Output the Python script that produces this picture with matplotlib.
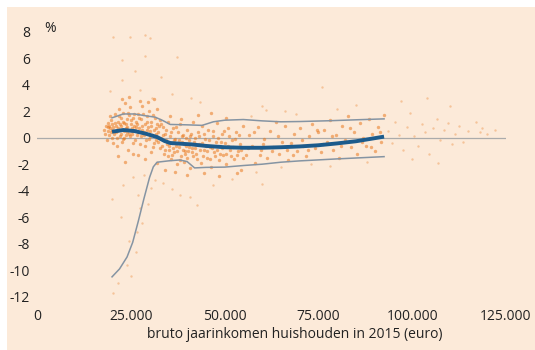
import numpy as np
import matplotlib
matplotlib.use('Agg')
import matplotlib.pyplot as plt

plt.rcParams['font.family'] = ['Open Sans', 'DejaVu Sans']
plt.rcParams['axes.unicode_minus'] = False

# loess line and band (x in euro, y in %)
loess_x = [20000, 23000, 26000, 29000, 32000, 34000, 35500, 38000, 41000, 45000, 50000,
           55000, 60000, 65000, 70000, 75000, 80000, 85000, 92500]
loess_y = [0.45, 0.58, 0.5, 0.3, 0.05, -0.25, -0.4, -0.45, -0.5, -0.62, -0.72,
           -0.76, -0.76, -0.72, -0.66, -0.57, -0.43, -0.27, 0.08]

upper_x = [20000, 23000, 26000, 29000, 31500, 33500, 35500, 40000, 44000, 47000, 50000,
           55000, 60000, 65000, 70000, 78000, 85000, 92500]
upper_y = [1.5, 1.79, 1.79, 1.65, 1.55, 1.3, 1.0, 0.97, 0.93, 1.2, 1.32,
           1.37, 1.27, 1.2, 1.22, 1.28, 1.35, 1.42]

lower_x = [20000, 22000, 24000, 25500, 27000, 28500, 30000, 31000, 32000, 35000, 38000,
           40000, 42000, 45000, 50000, 55000, 60000, 65000, 70000, 80000, 92500]
lower_y = [-10.5, -9.9, -9.0, -7.9, -6.3, -4.6, -3.0, -2.2, -1.85, -1.75, -1.68,
           -1.8, -2.28, -2.24, -2.22, -2.1, -2.0, -1.85, -1.75, -1.6, -1.43]

# scatter cloud, dense part (x in thousands of euro, y in %)
cloud_core = [
    (17.8, 0.6), (18.2, 0.3), (18.5, 0.9), (18.8, 0.5), (19.0, 1.1), (19.2, 0.2), (19.4, 0.7),
    (19.6, 0.4), (19.8, 1.3), (20.0, 0.0), (20.2, 0.8), (20.4, 0.5), (18.6, -0.2), (19.5, 1.6),
    (20.3, -0.4), (19.9, 0.6), (18.9, 0.8), (20.1, 1.0), (19.3, 0.9), (20.6, 0.3),
    (20.8, 1.8), (21.0, 0.4), (21.2, -0.6), (21.5, 1.2), (21.7, 0.7), (21.9, 2.2), (22.1, 0.1),
    (22.3, 1.5), (22.5, 0.9), (22.7, -0.3), (22.9, 1.9), (23.1, 0.5), (23.3, 1.1), (23.5, 2.6),
    (23.7, 0.2), (23.9, 1.4), (24.1, 0.8), (24.3, -0.9), (24.5, 1.7), (24.7, 0.6), (24.9, 2.3),
    (25.1, 1.0), (25.3, 0.3), (25.5, 1.5), (25.7, -0.4), (25.9, 0.9), (21.4, 0.0), (22.0, 1.0),
    (23.0, -0.1), (24.0, 0.4), (25.0, 1.3), (26.0, 0.6), (21.6, -1.4), (23.4, -1.8), (25.6, -1.2),
    (22.6, 2.9), (24.6, 3.1), (21.1, 0.9), (22.4, 0.3), (23.8, 1.0), (24.8, 0.1), (25.4, 0.7),
    (20.9, 1.1), (21.3, 0.5), (21.8, 1.6), (22.2, 0.6), (22.8, 1.2), (23.2, 0.0), (23.6, 0.7),
    (24.2, 1.9), (24.4, 0.3), (25.2, 0.5), (25.8, 1.8),
    (26.3, 1.2), (26.6, 0.2), (26.9, 1.8), (27.2, 0.7), (27.5, -0.5), (27.8, 1.4), (28.1, 2.4),
    (28.4, 0.4), (28.7, 1.0), (29.0, -0.2), (29.3, 1.6), (29.6, 0.8), (29.9, 2.0), (30.2, 0.1),
    (30.5, 1.2), (30.8, -0.7), (31.1, 0.6), (31.4, 1.5), (31.7, 0.3), (32.0, 2.2), (32.3, -0.3),
    (32.6, 0.9), (32.9, 1.3), (26.8, -1.3), (28.9, -1.6), (30.4, -1.1), (32.1, -1.9), (27.4, 2.8),
    (29.5, 2.7), (31.2, 2.9), (33.0, 0.0), (28.0, 0.9), (30.0, 0.5), (31.9, 1.0), (27.0, 0.4),
    (29.2, 0.6), (30.7, 0.2), (31.6, -0.2), (26.5, 0.8), (28.6, 0.2), (26.2, -0.2), (26.7, 1.0),
    (27.1, 1.5), (27.6, 0.1), (27.9, 0.6), (28.3, 1.8), (28.8, -0.6), (29.4, 1.2), (29.8, -0.1),
    (30.3, 0.9), (30.9, 1.7), (31.3, -0.4), (31.8, 0.7), (32.2, 0.4), (32.7, -0.8),
    (33.3, -0.6), (33.6, 0.8), (33.9, -1.2), (34.2, 0.3), (34.5, -0.2), (34.8, 1.2), (35.1, -0.9),
    (35.4, 0.1), (35.7, -1.6), (36.0, -0.4), (36.3, 0.7), (36.6, -1.1), (36.9, -0.1), (37.2, -2.0),
    (37.5, 0.4), (37.8, -0.7), (38.1, 1.0), (38.4, -1.4), (38.7, -0.3), (39.0, 0.2), (39.3, -1.8),
    (39.6, -0.6), (39.9, 0.6), (40.2, -1.0), (40.5, -0.2), (40.8, -2.3), (41.1, 0.3), (41.4, -0.8),
    (41.7, -1.4), (42.0, 0.0), (34.0, -2.4), (35.5, 1.6), (36.8, -2.6), (38.5, 1.4), (40.0, -2.8),
    (41.5, 1.2), (34.7, -0.5), (36.2, -0.8), (37.9, -0.2), (39.5, -1.2), (35.0, -0.3), (37.0, -0.6),
    (38.9, -0.9), (40.6, -0.5), (33.1, 1.0), (33.5, 0.2), (33.8, -0.2), (34.1, -0.9), (34.4, 0.6),
    (34.9, -1.4), (35.3, -0.6), (35.8, 0.4), (36.1, -1.3), (36.5, -0.2), (37.1, 0.8), (37.4, -1.0),
    (37.7, -0.4), (38.2, -1.7), (38.6, 0.1), (39.1, -0.5), (39.4, -1.0), (39.8, 0.0), (40.1, -1.5),
    (40.4, -0.7), (40.9, 0.1), (41.3, -1.1), (41.8, -0.3),
    (42.4, -1.2), (42.8, 0.4), (43.2, -0.5), (43.6, -1.9), (44.0, 0.9), (44.4, -0.9), (44.8, -0.1),
    (45.2, -1.5), (45.6, 0.6), (46.0, -0.7), (46.4, -2.2), (46.8, 0.1), (47.2, -1.1), (47.6, -0.3),
    (48.0, 1.1), (48.4, -1.7), (48.8, -0.6), (49.2, 0.3), (49.6, -1.3), (50.0, -0.4), (50.5, -2.0),
    (51.0, 0.7), (51.5, -0.9), (52.0, -0.2), (52.5, -1.6), (53.0, 0.4), (53.5, -1.0), (54.0, -0.5),
    (54.5, -2.4), (55.0, 0.9), (43.0, 1.7), (46.5, 1.9), (50.5, 1.5), (44.5, -2.7), (48.5, -2.9),
    (53.2, -2.7), (42.2, -0.8), (42.6, -1.6), (43.1, 0.1), (43.4, -0.9), (43.9, -0.4), (44.2, -1.4),
    (44.6, 0.3), (45.0, -0.6), (45.4, -1.0), (45.9, -0.2), (46.2, -1.6), (46.7, -0.8), (47.0, 0.5),
    (47.4, -1.4), (47.9, -0.9), (48.2, 0.0), (48.7, -1.2), (49.0, -0.3), (49.4, -0.8), (49.8, 0.5),
    (50.3, -1.2), (50.8, -0.6), (51.3, 0.1), (51.8, -1.4), (52.3, -0.7), (52.8, -0.1), (53.3, -1.3),
    (53.8, 0.2), (54.3, -0.9), (54.8, -1.5),
    (55.8, -1.3), (56.6, 0.2), (57.4, -0.6), (58.2, -1.9), (59.0, 0.8), (59.8, -0.9), (60.6, -0.1),
    (61.4, -1.5), (62.2, 0.5), (63.0, -0.7), (63.8, 1.2), (64.6, -1.2), (65.4, -0.3), (66.2, 0.9),
    (67.0, -1.7), (67.8, -0.4), (68.6, 0.3), (69.4, -1.0), (70.2, 0.7), (71.0, -0.6), (71.8, -1.4),
    (72.6, 0.1), (73.4, 1.0), (74.2, -0.8), (75.0, 0.4), (56.2, -0.8), (57.8, 0.4), (59.4, -1.3),
    (60.2, -0.5), (62.6, -1.0), (64.2, 0.1), (66.6, -0.9), (68.2, -1.3), (70.6, -0.2), (72.2, -0.9),
    (74.6, 0.6),
    (75.8, -1.1), (76.6, 0.6), (77.4, -0.3), (78.2, 1.3), (79.0, -0.9), (79.8, 0.2), (80.6, -1.5),
    (81.4, 0.9), (82.2, -0.2), (83.0, 1.6), (83.8, -0.7), (84.6, 0.4), (85.4, -1.2), (86.2, 1.1),
    (87.0, 0.0), (87.8, -0.6), (88.6, 1.4), (89.4, 0.3), (90.2, -1.0), (91.0, 0.8), (91.8, -0.3),
    (92.6, 1.7), (76.2, -0.5), (78.6, 0.1), (81.0, -0.6), (83.4, 0.7), (86.6, -0.3), (89.0, -0.7),
    (91.4, 0.4),
]

# scatter cloud, thin tail and outliers
cloud_sparse = [
    (57.0, 1.6), (61.0, 2.1), (65.0, -2.2), (69.0, 1.8), (73.0, -2.0), (60.0, 2.4), (66.0, 2.0),
    (58.5, -2.6), (76.0, 3.8), (80.0, 2.2), (85.0, 2.5), (78.0, -2.1), (88.0, -1.8),
    (93.5, 0.5), (94.5, -0.4), (95.5, 1.2), (96.5, 0.2), (97.5, -0.9), (98.5, 0.8), (99.5, 1.9),
    (100.5, 0.1), (101.5, -0.6), (102.5, 1.0), (103.5, 0.4), (104.5, -1.2), (105.5, 0.7),
    (106.5, 1.4), (107.5, -0.2), (108.5, 0.6), (109.5, 1.1), (110.5, -0.5), (111.5, 0.3),
    (112.5, 0.9), (113.5, -0.3), (115.0, 0.5), (117.0, 1.2), (97.0, 2.8), (104.0, 3.0),
    (110.0, 2.4), (100.0, -1.6), (107.0, -1.9), (118.0, 0.45), (118.5, 0.7), (120.0, 0.3),
    (122.0, 0.6),
    (20.3, 7.6), (24.8, 7.6), (28.8, 7.75), (30.2, 7.5), (22.6, 5.9), (28.8, 6.2), (22.6, 4.35),
    (37.3, 6.1), (19.5, 3.5), (30.6, 3.0), (43.5, 2.7), (26.0, 5.0), (33.0, 4.6), (27.5, 3.6),
    (36.0, 3.3), (41.0, 3.0),
    (20.3, -11.7), (21.5, -11.0), (24.0, -9.6), (25.0, -10.4), (26.6, -7.1), (27.5, -5.3),
    (24.5, -7.8), (28.0, -6.4), (22.5, -6.0), (26.5, -8.6), (29.5, -5.0), (27.0, -4.3),
    (30.5, -3.8), (23.0, -3.6), (31.5, -3.2), (20.0, -4.6), (25.5, -3.0), (28.5, -2.8),
    (33.5, -3.4), (36.0, -3.9), (38.2, -4.3), (40.9, -4.5), (42.7, -5.1), (47.0, -3.6),
    (52.0, -3.1), (60.0, -3.5),
]

xticks = [0, 25000, 50000, 75000, 100000, 125000]
xtick_labels = ['0', '25.000', '50.000', '75.000', '100.000', '125.000']
yticks = [8, 6, 4, 2, 0, -2, -4, -6, -8, -10, -12]
ytick_labels = ['8', '6', '4', '2', '0', '-2', '-4', '-6', '-8', '-10', '-12']

bg = '#fcead9'
W, H = 535, 350
fig = plt.figure(figsize=(W / 100, H / 100), dpi=100)
fig.patch.set_facecolor('white')

# beige panel behind everything
bgax = fig.add_axes([7 / W, 0, 1 - 7 / W, 1 - 7 / H], zorder=-1)
bgax.set_facecolor(bg)
bgax.set_xticks([])
bgax.set_yticks([])
for s in bgax.spines.values():
    s.set_visible(False)

ax = fig.add_axes([37 / W, 1 - 300.7 / H, 469 / W, 273 / H], zorder=1)
ax.set_facecolor('none')
ax.set_xlim(0, 125000)
ax.set_ylim(-12.3, 8.3)
for s in ax.spines.values():
    s.set_visible(False)

ax.plot([0, 125000], [0, 0], color='#ababab', lw=0.9, zorder=1)

ax.scatter([p[0] * 1000 for p in cloud_core], [p[1] for p in cloud_core],
           s=6, color='#e9791f', alpha=0.55, linewidths=0, zorder=2)
ax.scatter([p[0] * 1000 for p in cloud_sparse], [p[1] for p in cloud_sparse],
           s=3, color='#ec8a3a', alpha=0.4, linewidths=0, zorder=2)

ax.plot(upper_x, upper_y, color='#8594a3', lw=1.1, zorder=3)
ax.plot(lower_x, lower_y, color='#8594a3', lw=1.1, zorder=3)
ax.plot(loess_x, loess_y, color='#1c5b8c', lw=2.8, solid_capstyle='butt', zorder=4)

ax.set_xticks(xticks)
ax.set_xticklabels(xtick_labels)
ax.set_yticks(yticks)
ax.set_yticklabels(ytick_labels)
ax.tick_params(axis='both', length=0, labelsize=10, colors='#222222')
ax.tick_params(axis='x', pad=6)
ax.tick_params(axis='y', pad=5)

fig.text(50 / W, 1 - 28 / H, '%', fontsize=10, color='#222222', ha='center', va='center')
fig.text(295 / W, 1 - 334 / H, 'bruto jaarinkomen huishouden in 2015 (euro)', fontsize=10,
         color='#222222', ha='center', va='center')

fig.savefig('out.png', dpi=100, facecolor=fig.get_facecolor())
